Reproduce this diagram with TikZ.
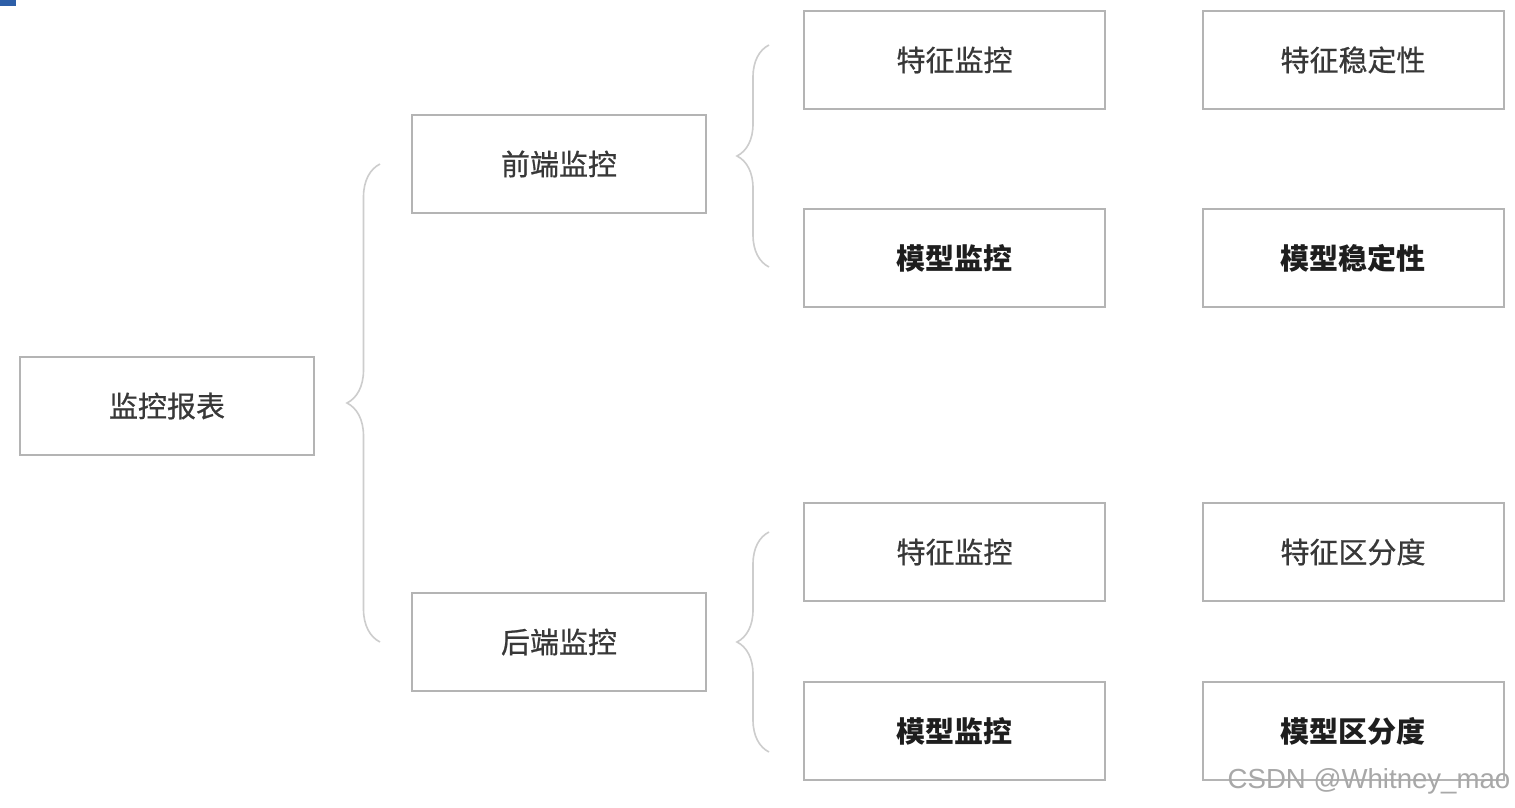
\documentclass[tikz,border=0pt]{standalone}
\usepackage{fontspec}
\newfontfamily\cjk{Noto Sans CJK SC}
\newfontfamily\cjkmed{Noto Sans CJK SC}[FakeBold=0.7]
\setsansfont{Liberation Sans}
\usetikzlibrary{calc,decorations.pathreplacing}
\definecolor{boxline}{HTML}{B4B4B4}
\definecolor{braceline}{HTML}{CDCDCD}
\definecolor{txt}{HTML}{383838}
\definecolor{txtb}{HTML}{1E1E1E}
\definecolor{marker}{HTML}{2D5FA8}
\definecolor{wm}{HTML}{A8A8A8}
\tikzset{
  box/.style={draw=boxline, line width=2pt, fill=white, inner sep=0pt,
    minimum height=98pt, text=txt, font=\cjkmed\fontsize{29}{34}\selectfont},
  boxa/.style={box, minimum width=294pt},
  boxb/.style={box, minimum width=301pt},
  strong/.style={text=txtb, font=\cjk\bfseries\fontsize{29}{34}\selectfont},
  curly/.style={draw=braceline, line width=1.6pt, decorate,
    decoration={brace, amplitude=#1}},
}
\begin{document}
\begin{tikzpicture}[x=1pt, y=-1pt]
\useasboundingbox (0,0) rectangle (1515,807);
\fill[white] (0,0) rectangle (1515,807);
\fill[marker] (0,0) rectangle (16,6);

\node[boxa] (root)  at (167,406) {监控报表};
\node[boxa] (front) at (559,164) {前端监控};
\node[boxa] (back)  at (559,642) {后端监控};

\node[boxb] (f1) at (954.5,60)  {特征监控};
\node[boxb, strong] (m1) at (954.5,258) {模型监控};
\node[boxb] (f2) at (954.5,552) {特征监控};
\node[boxb, strong] (m2) at (954.5,731) {模型监控};

\node[boxb] (s1) at (1353,60)  {特征稳定性};
\node[boxb, strong] (s2) at (1353,258) {模型稳定性};
\node[boxb] (d1) at (1353,552) {特征区分度};
\node[boxb, strong] (d2) at (1353,731) {模型区分度};

% brace end points
\coordinate (b1t) at ($(front.west)+(-31,0)$);
\coordinate (b1b) at ($(back.west)+(-31,0)$);
\coordinate (b2t) at ($(f1.west)+(-34,-15)$);
\coordinate (b2b) at ($(m1.west)+(-34,9)$);
\coordinate (b3t) at ($(f2.west)+(-34,-20)$);
\coordinate (b3b) at ($(m2.west)+(-34,21)$);

\draw[curly=33pt] (b1b) -- (b1t);
\draw[curly=32pt] (b2b) -- (b2t);
\draw[curly=32pt] (b3b) -- (b3t);

\node[text=wm, font=\sffamily\fontsize{27.6}{30}\selectfont, inner sep=0pt] (wmark) at (1369,781) {CSDN @Whitney\_mao};
\end{tikzpicture}
\end{document}
